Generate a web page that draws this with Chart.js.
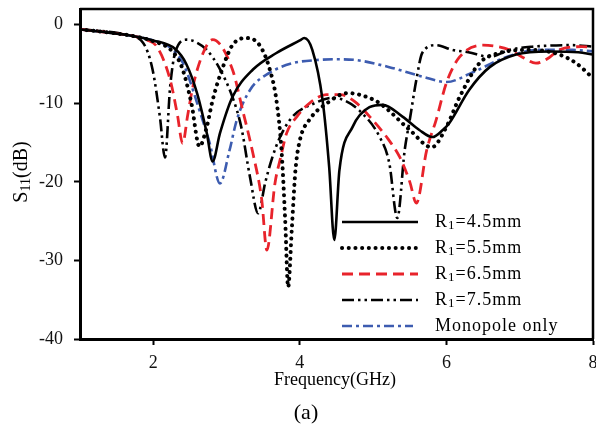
<!DOCTYPE html>
<html>
<head>
<meta charset="utf-8">
<script src="https://cdn.jsdelivr.net/npm/chart.js@4.4.1/dist/chart.umd.min.js"></script>
<style>
  html, body { margin: 0; padding: 0; background: #fff; }
  #wrap { width: 596px; height: 429px; }
</style>
</head>
<body>
<div id="wrap"><canvas id="s11Chart" width="596" height="429"></canvas></div>
<script>
// Return loss curves, frequency in GHz and S11 in dB
const freq45 = [1.0, 1.3, 1.7, 2.0, 2.3, 2.45, 2.6, 2.73, 2.81, 2.91, 3.08, 3.36, 3.68, 4.0, 4.06, 4.17, 4.31, 4.4, 4.47, 4.54, 4.72, 4.95, 5.13, 5.4, 5.63, 5.81, 5.95, 6.04, 6.31, 6.59, 6.95, 7.4, 7.8, 8.0];
const s11_45 = [-0.6, -0.9, -1.4, -2.0, -3.1, -5.0, -8.8, -13.8, -17.4, -13.8, -9.2, -5.7, -3.6, -2.0, -1.7, -3.2, -9.6, -18.1, -27.4, -18.5, -13.0, -10.5, -10.2, -11.7, -13.4, -14.3, -13.4, -12.5, -8.3, -5.4, -3.8, -3.4, -3.5, -3.8];

const freq55 = [1.0, 1.3, 1.7, 2.0, 2.25, 2.39, 2.52, 2.63, 2.73, 2.81, 2.95, 3.08, 3.27, 3.45, 3.59, 3.68, 3.75, 3.8, 3.84, 3.89, 3.94, 4.0, 4.13, 4.37, 4.65, 4.85, 5.09, 5.5, 5.8, 6.0, 6.18, 6.45, 6.72, 7.17, 7.54, 7.77, 8.0];
const s11_55 = [-0.6, -0.9, -1.4, -2.1, -3.3, -5.4, -10.0, -15.5, -13.0, -9.6, -5.4, -2.6, -1.7, -2.6, -5.7, -9.6, -16.0, -24.9, -33.4, -26.0, -18.5, -14.7, -12.1, -10.0, -8.7, -9.0, -10.0, -13.4, -15.6, -13.0, -9.2, -4.9, -3.6, -3.2, -3.8, -4.9, -6.8];

const freq65 = [1.0, 1.3, 1.7, 1.9, 2.05, 2.23, 2.33, 2.4, 2.47, 2.54, 2.68, 2.81, 3.08, 3.22, 3.36, 3.48, 3.55, 3.66, 3.73, 3.82, 3.96, 4.13, 4.36, 4.55, 4.75, 4.99, 5.2, 5.36, 5.5, 5.59, 5.73, 5.86, 6.0, 6.18, 6.5, 6.86, 7.05, 7.22, 7.4, 7.54, 7.85, 8.0];
const s11_65 = [-0.6, -0.9, -1.4, -1.9, -2.8, -7.0, -11.5, -15.1, -11.5, -7.9, -3.6, -1.9, -5.7, -10.9, -16.4, -22.3, -28.7, -20.2, -17.2, -13.8, -11.7, -10.0, -8.9, -8.9, -9.8, -12.1, -14.5, -16.8, -20.0, -22.7, -16.0, -12.1, -7.4, -4.1, -2.6, -3.2, -4.2, -4.9, -4.2, -3.2, -2.8, -2.9];

const freq75 = [1.0, 1.3, 1.6, 1.86, 1.99, 2.09, 2.16, 2.23, 2.3, 2.46, 2.6, 2.73, 2.9, 3.08, 3.2, 3.32, 3.43, 3.53, 3.62, 3.73, 3.9, 4.2, 4.45, 4.6, 4.81, 5.09, 5.22, 5.33, 5.43, 5.5, 5.59, 5.67, 5.86, 6.08, 6.3, 6.59, 6.86, 7.17, 7.72, 8.0];
const s11_75 = [-0.6, -0.8, -1.2, -2.3, -5.7, -11.7, -16.9, -7.9, -3.5, -1.9, -2.3, -3.2, -5.5, -9.2, -13.0, -19.4, -24.0, -20.0, -17.0, -14.3, -11.7, -10.0, -9.3, -9.6, -10.9, -14.3, -17.6, -24.6, -16.0, -12.1, -7.0, -3.6, -2.6, -3.2, -3.5, -4.1, -3.2, -2.8, -2.6, -2.8];

const freqMono = [1.0, 1.3, 1.7, 2.0, 2.23, 2.4, 2.46, 2.63, 2.77, 2.91, 3.04, 3.14, 3.32, 3.59, 3.9, 4.23, 4.5, 4.77, 5.22, 5.67, 6.0, 6.35, 6.82, 7.27, 7.72, 8.0];
const s11Mono = [-0.6, -0.9, -1.4, -2.0, -2.9, -4.8, -6.1, -10.9, -15.1, -20.2, -16.0, -12.1, -8.3, -6.1, -4.9, -4.5, -4.4, -4.5, -5.4, -6.6, -7.3, -6.1, -4.1, -3.2, -3.2, -3.4];

const xTicks = [2, 4, 6, 8];
const yTicks = [-40, -30, -20, -10, 0];
const seriesNames = ['4.5mm', '5.5mm', '6.5mm', '7.5mm', 'Monopole only'];

const SERIF = "'Liberation Serif', 'Times New Roman', serif";

function pts(xs, ys) {
  return xs.map((x, i) => ({ x: x, y: ys[i] }));
}

const styles = [
  { color: '#000000', width: 2.6, dash: [], cap: 'butt' },
  { color: '#000000', width: 4, dash: [0.1, 6.6], cap: 'round' },
  { color: '#e8232b', width: 2.8, dash: [11, 6], cap: 'butt' },
  { color: '#000000', width: 2.6, dash: [12, 4, 2.5, 4, 2.5, 4], cap: 'butt' },
  { color: '#3d5cb0', width: 2.6, dash: [10, 4, 3, 4], cap: 'butt' }
];

const curves = [
  pts(freq45, s11_45),
  pts(freq55, s11_55),
  pts(freq65, s11_65),
  pts(freq75, s11_75),
  pts(freqMono, s11Mono)
];

const datasets = curves.map((d, i) => ({
  label: seriesNames[i],
  data: d,
  borderColor: styles[i].color,
  borderWidth: styles[i].width,
  borderDash: styles[i].dash,
  borderCapStyle: styles[i].cap,
  pointRadius: 0,
  fill: false,
  cubicInterpolationMode: 'monotone'
}));

// text pieces: [string, font size, baseline shift]
function drawRich(ctx, parts, x, y) {
  let cx = x;
  parts.forEach(p => {
    ctx.font = p[1] + 'px ' + SERIF;
    ctx.fillText(p[0], cx, y + p[2]);
    cx += ctx.measureText(p[0]).width;
  });
  return cx;
}

function richWidth(ctx, parts) {
  let w = 0;
  parts.forEach(p => {
    ctx.font = p[1] + 'px ' + SERIF;
    w += ctx.measureText(p[0]).width;
  });
  return w;
}

const decor = {
  id: 'decor',
  afterDraw(chart) {
    const ctx = chart.ctx;
    const a = chart.chartArea;
    ctx.save();

    // frame on top and right
    ctx.setLineDash([]);
    ctx.strokeStyle = '#000';
    ctx.lineWidth = 2.5;
    ctx.beginPath();
    ctx.moveTo(a.left, a.top);
    ctx.lineTo(a.right, a.top);
    ctx.lineTo(a.right, a.bottom);
    ctx.stroke();

    // legend inside the plot
    ctx.fillStyle = '#000';
    ctx.textBaseline = 'middle';
    ctx.textAlign = 'left';
    ctx.letterSpacing = '1px';
    for (let i = 0; i < styles.length; i++) {
      const s = styles[i];
      const ly = 222 + i * 26;
      ctx.strokeStyle = s.color;
      ctx.lineWidth = s.width;
      ctx.lineCap = s.cap;
      ctx.setLineDash(s.dash);
      ctx.beginPath();
      ctx.moveTo(342, ly);
      ctx.lineTo(i === 4 ? 413 : 418, ly);
      ctx.stroke();
      ctx.setLineDash([]);
      if (i < 4) {
        drawRich(ctx, [['R', 18, 0], ['1', 13, 4], ['=' + seriesNames[i], 18, 0]], 435, ly);
      } else {
        drawRich(ctx, [[seriesNames[i], 18, 0]], 435, ly);
      }
    }
    ctx.letterSpacing = '0px';

    // axis titles
    ctx.textAlign = 'center';
    ctx.font = '18px ' + SERIF;
    ctx.fillText('Frequency(GHz)', 335, 380);

    ctx.translate(22, 172);
    ctx.rotate(-Math.PI / 2);
    ctx.textAlign = 'left';
    const yParts = [['S', 20, 0], ['11', 14, 4], ['(dB)', 20, 0]];
    drawRich(ctx, yParts, -richWidth(ctx, yParts) / 2, 0);
    ctx.setTransform(1, 0, 0, 1, 0, 0);

    // panel caption
    ctx.textAlign = 'center';
    ctx.font = '22px ' + SERIF;
    ctx.fillText('(a)', 306, 413);
    ctx.restore();
  }
};

new Chart(document.getElementById('s11Chart'), {
  type: 'line',
  data: { datasets: datasets },
  options: {
    responsive: false,
    animation: false,
    devicePixelRatio: 1,
    layout: { padding: { top: 9, right: 3, left: 0, bottom: 0 } },
    plugins: {
      legend: { display: false },
      tooltip: { enabled: false }
    },
    scales: {
      x: {
        type: 'linear',
        min: 1,
        max: 8,
        afterBuildTicks: s => { s.ticks = xTicks.map(v => ({ value: v })); },
        afterFit: s => { s.height = 90; s.paddingLeft = 0; s.paddingRight = 0; },
        ticks: { color: '#111', font: { family: SERIF, size: 18 }, padding: 7, maxRotation: 0 },
        grid: { display: true, drawOnChartArea: false, drawTicks: true, tickLength: 6, tickWidth: 2, color: '#000' },
        border: { display: true, width: 3, color: '#000' }
      },
      y: {
        type: 'linear',
        min: -40,
        max: 2,
        afterBuildTicks: s => { s.ticks = yTicks.map(v => ({ value: v })); },
        afterFit: s => { s.width = 80; s.paddingTop = 0; s.paddingBottom = 0; },
        ticks: { color: '#111', font: { family: SERIF, size: 18 }, padding: 11 },
        grid: { display: true, drawOnChartArea: false, drawTicks: true, tickLength: 6, tickWidth: 2, color: '#000' },
        border: { display: true, width: 3, color: '#000' }
      }
    }
  },
  plugins: [decor]
});
</script>
</body>
</html>
